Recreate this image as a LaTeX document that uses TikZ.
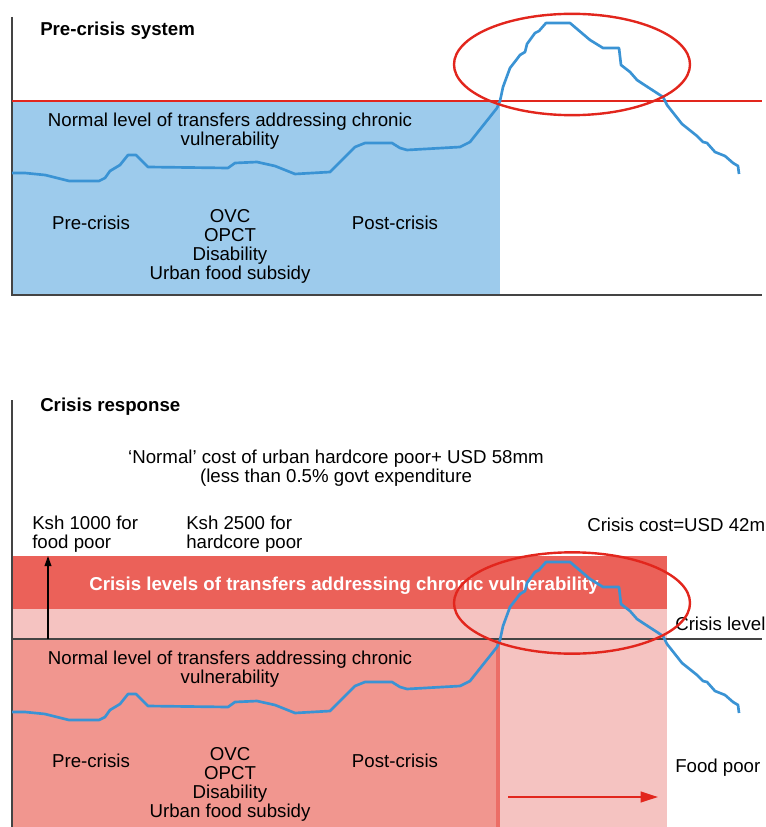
\documentclass[tikz,border=0pt]{standalone}
\usepackage{fontspec}
\setmainfont{Liberation Sans}
\usetikzlibrary{arrows.meta}
\definecolor{barblue}{HTML}{9DCBEC}
\definecolor{lineblue}{HTML}{3A93D4}
\definecolor{alarmred}{HTML}{E2261D}
\definecolor{crisisred}{HTML}{EB6159}
\definecolor{crisispink}{HTML}{F5C3C1}
\definecolor{normalpink}{HTML}{F1968F}
\definecolor{edgered}{HTML}{EC6E67}
\definecolor{axisgrey}{HTML}{444444}
\tikzstyle{caption}=[inner sep=0pt, align=center, font=\fontsize{14}{14.25}\selectfont]
\tikzstyle{heading}=[inner sep=0pt, anchor=base west, font=\fontsize{14}{14.25}\selectfont\bfseries]
\tikzstyle{curve}=[draw=lineblue, line width=2pt, line join=round]
\tikzstyle{ring}=[draw=alarmred, line width=1.8pt]
\tikzstyle{axis}=[draw=axisgrey, line width=1pt]
\tikzset{trend/.pic={
  \draw[curve] (12,173) -- (25,173) -- (45,175) -- (69,181) -- (99,181) -- (105,178) -- (110,171)
    -- (120,165) -- (128,155) -- (136,155) -- (148,167) -- (228,168) -- (235,163) -- (257,162)
    -- (275,166) -- (295,174) -- (330,172) -- (355,147) -- (365,143) -- (392,143) -- (400,148)
    -- (407,150) -- (460,147) -- (470,142) -- (497,108) -- (500,101) -- (503,87) -- (510,68)
    -- (517,59) -- (520,55) -- (525,52) -- (527,44) -- (535,33) -- (539,31) -- (546,23) -- (570,23)
    -- (590,40) -- (603,48) -- (619,48) -- (621,65) -- (630,72) -- (637,80) -- (643,84) -- (663,97)
    -- (667,105) -- (682,124) -- (697,136) -- (703,142) -- (707,143) -- (715,152) -- (725,156)
    -- (733,163) -- (738,166) -- (739,174);
}}

\begin{document}
\begin{tikzpicture}[x=0.75pt, y=-0.75pt]
  \useasboundingbox (0,0) rectangle (766,827);

  % pre-crisis panel
  \fill[barblue] (12,101) rectangle (500,295);
  \draw[axis] (12,17) -- (12,295) -- (762,295);
  \draw[draw=alarmred, line width=1.6pt] (12,101) -- (762,101);
  \node[heading] (pretitle) at (40,36) {Pre-crisis system};
  \node[caption] (prenormal) at (230,131) {Normal level of transfers addressing chronic\\vulnerability};
  \node[caption, anchor=base] (prebefore) at (91,229) {Pre-crisis};
  \node[caption] (preschemes) at (230,246) {OVC\\OPCT\\Disability\\Urban food subsidy};
  \node[caption, anchor=base] (preafter) at (395,229) {Post-crisis};
  \pic at (0,0) {trend};
  \draw[ring] (572,64.5) ellipse [x radius=88.5pt, y radius=38pt];

  % crisis response panel
  \fill[crisispink] (12,609) rectangle (667,639);
  \fill[crisispink] (500,639) rectangle (667,827);
  \fill[crisisred] (12,556) rectangle (667,609);
  \fill[normalpink] (12,639) rectangle (500,827);
  \fill[edgered] (496,639) rectangle (500,827);
  \draw[axis] (12,400) -- (12,827);
  \draw[axis] (12,639) -- (762,639);
  \node[heading] (crisistitle) at (40,411) {Crisis response};
  \node[caption] (normalcost) at (336,468) {‘Normal’ cost of urban hardcore poor+ USD 58mm\\(less than 0.5\% govt expenditure};
  \node[caption, align=left, anchor=west] (foodpoorrate) at (32,534) {Ksh 1000 for\\food poor};
  \node[caption, align=left, anchor=west] (hardcorerate) at (186,534) {Ksh 2500 for\\hardcore poor};
  \node[caption, anchor=base west] (crisiscost) at (587,531) {Crisis cost=USD 42m};
  \node[caption, anchor=base, text=white, font=\fontsize{14}{14.25}\selectfont\bfseries] (crisisband) at (344,590) {Crisis levels of transfers addressing chronic vulnerability};
  \node[caption, anchor=base west] (crisislevel) at (675,630) {Crisis level};
  \node[caption] (crisisnormal) at (230,669) {Normal level of transfers addressing chronic\\vulnerability};
  \node[caption, anchor=base] (crisisbefore) at (91,767) {Pre-crisis};
  \node[caption] (crisisschemes) at (230,784) {OVC\\OPCT\\Disability\\Urban food subsidy};
  \node[caption, anchor=base] (crisisafter) at (395,767) {Post-crisis};
  \node[caption, anchor=base west] (foodpoor) at (675,772) {Food poor};
  \coordinate (risebase) at (48,639);
  \coordinate (risetop) at (48,556);
  \draw[line width=1.1pt, -{Triangle[length=7.5pt, width=5pt]}] (risebase) -- (risetop);
  \coordinate (spreadstart) at (508,797);
  \coordinate (spreadend) at (658,797);
  \draw[alarmred, line width=1.5pt, -{Triangle[length=13pt, width=8pt]}] (spreadstart) -- (spreadend);
  \pic at (0,539) {trend};
  \draw[ring] (572,603) ellipse [x radius=88.5pt, y radius=38pt];
\end{tikzpicture}
\end{document}
